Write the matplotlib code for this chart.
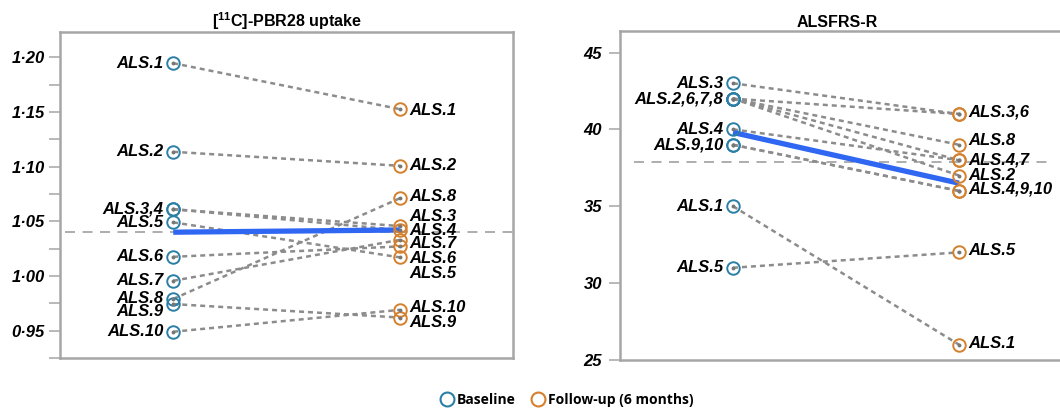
import numpy as np
import matplotlib
matplotlib.use("Agg")
import matplotlib.pyplot as plt
from matplotlib.lines import Line2D
from matplotlib.ticker import FixedLocator, FuncFormatter

plt.rcParams['font.family'] = ['Liberation Sans', 'DejaVu Sans']
plt.rcParams['font.weight'] = 'bold'
plt.rcParams['font.style'] = 'italic'
plt.rcParams['font.size'] = 12
plt.rcParams['mathtext.fontset'] = 'custom'
plt.rcParams['mathtext.rm'] = 'Liberation Sans:style=normal:weight=bold'
plt.rcParams['mathtext.bf'] = 'Liberation Sans:style=normal:weight=bold'

# [11C]-PBR28 uptake, patients ALS.1 .. ALS.10
pbr_baseline = [1.1945, 1.1135, 1.061, 1.061, 1.049, 1.0175, 0.9956, 0.979, 0.9743, 0.949]
pbr_followup = [1.1525, 1.1007, 1.0456, 1.042, 1.017, 1.027, 1.033, 1.071, 0.962, 0.969]
pbr_mean = [1.040, 1.042]
pbr_ref = 1.0404

pbr_base_labels = ["ALS.1", "ALS.2", "ALS.3,4", "ALS.5", "ALS.6", "ALS.7", "ALS.8", "ALS.9", "ALS.10"]
pbr_base_label_y = [1.1945, 1.1135, 1.0612, 1.0485, 1.0175, 0.9956, 0.9798, 0.9673, 0.949]
pbr_follow_labels = ["ALS.1", "ALS.2", "ALS.8", "ALS.3", "ALS.4", "ALS.7", "ALS.6", "ALS.5", "ALS.10", "ALS.9"]
pbr_follow_label_y = [1.1516, 1.1013, 1.0724, 1.0547, 1.042, 1.0298, 1.016, 1.0024, 0.9713, 0.9576]

# ALSFRS-R, patients ALS.1 .. ALS.10
frs_baseline = [35, 42, 43, 40, 31, 42, 42, 42, 39, 39]
frs_followup = [26, 37, 41, 38, 32, 41, 38, 39, 36, 36]
frs_mean = [39.8, 36.5]
frs_ref = 37.9

frs_base_labels = ["ALS.3", "ALS.2,6,7,8", "ALS.4", "ALS.9,10", "ALS.1", "ALS.5"]
frs_base_label_y = [43, 42, 40, 39, 35, 31]
frs_follow_labels = ["ALS.3,6", "ALS.8", "ALS.4,7", "ALS.2", "ALS.4,9,10", "ALS.5", "ALS.1"]
frs_follow_label_y = [41.1, 39.3, 38.0, 37.0, 36.1, 32.1, 26.1]

BASE_C = '#2b7fa6'
FOLLOW_C = '#d4802c'
MEAN_C = '#2f66f2'
GRID_C = '#a6a6a6'

fig = plt.figure(figsize=(10.6, 4.08), dpi=100)
ax1 = fig.add_axes([60/1060, 50/408, 453/1060, 326/408])
ax2 = fig.add_axes([620/1060, 48/408, 452/1060, 329/408])


def panel(ax, base, follow, mean, ref, ref_span, base_labels, base_label_y,
          follow_labels, follow_label_y, title, title_x, pad):
    x = [0, 1]
    for b, f in zip(base, follow):
        ax.plot(x, [b, f], color='#8c8c8c', lw=1.8, dashes=(2, 1.6), zorder=2)
    ax.plot(x, mean, color=MEAN_C, lw=3.8, solid_capstyle='butt', zorder=3)
    ax.axhline(ref, xmin=ref_span[0], xmax=ref_span[1], color='#a0a0a0', lw=1.2,
               dashes=(6, 4.5), clip_on=False, zorder=1)
    ax.plot(np.zeros(len(base)), base, 'o', ms=9, mfc='none', mec=BASE_C, mew=1.4, zorder=4)
    ax.plot(np.ones(len(follow)), follow, 'o', ms=9, mfc='none', mec=FOLLOW_C, mew=1.4, zorder=4)
    ax.plot(np.zeros(len(base)), base, 'o', ms=1.8, color='#777777', zorder=5)
    ax.plot(np.ones(len(follow)), follow, 'o', ms=1.8, color='#777777', zorder=5)
    for lab, yy in zip(base_labels, base_label_y):
        ax.annotate(lab, (0, yy), xytext=(-7, 0), textcoords='offset points', ha='right',
                    va='center')
    for lab, yy in zip(follow_labels, follow_label_y):
        ax.annotate(lab, (1, yy), xytext=(7, 0), textcoords='offset points', ha='left',
                    va='center')
    ax.set_xlim(-0.5, 1.5)
    ax.set_xticks([])
    for s in ax.spines.values():
        s.set_color(GRID_C)
        s.set_linewidth(1.8)
    ax.tick_params(axis='y', which='both', length=8, width=1.1, color=GRID_C, pad=pad,
                   labelsize=12)
    ax.set_title(title, fontsize=11.5, fontweight='bold', style='normal', pad=3, x=title_x)


ax1.set_ylim(0.925, 1.223)
ax1.yaxis.set_major_locator(FixedLocator([0.95, 1.00, 1.05, 1.10, 1.15, 1.20]))
ax1.yaxis.set_minor_locator(FixedLocator([0.925, 0.975, 1.025, 1.075, 1.125, 1.175, 1.225]))
ax1.yaxis.set_major_formatter(FuncFormatter(lambda v, p: f"{v:.2f}".replace('.', '\u00b7')))
panel(ax1, pbr_baseline, pbr_followup, pbr_mean, pbr_ref, (0.01, 1.01),
      pbr_base_labels, pbr_base_label_y, pbr_follow_labels, pbr_follow_label_y,
      r'[$^{\mathbf{11}}$C]-PBR28 uptake', 0.5, 3)

ax2.set_ylim(25, 46.4)
ax2.yaxis.set_major_locator(FixedLocator([25, 30, 35, 40, 45]))
ax2.yaxis.set_major_formatter(FuncFormatter(lambda v, p: f"{v:.0f}"))
panel(ax2, frs_baseline, frs_followup, frs_mean, frs_ref, (0.03, 0.96),
      frs_base_labels, frs_base_label_y, frs_follow_labels, frs_follow_label_y,
      'ALSFRS-R', 0.48, 5)

handles = [
    Line2D([], [], marker='o', ls='none', ms=10, mfc='none', mec=BASE_C, mew=1.5),
    Line2D([], [], marker='o', ls='none', ms=10, mfc='none', mec=FOLLOW_C, mew=1.5),
]
fig.legend(handles, ['Baseline', 'Follow-up (6 months)'], loc='center',
           bbox_to_anchor=(566/1060, 1 - 400/408), ncol=2, frameon=False,
           prop={'family': 'Open Sans', 'weight': 'bold', 'style': 'normal', 'size': 10},
           handletextpad=0.1, columnspacing=1.0, handlelength=1.2)

fig.savefig('out.png', dpi=100)
